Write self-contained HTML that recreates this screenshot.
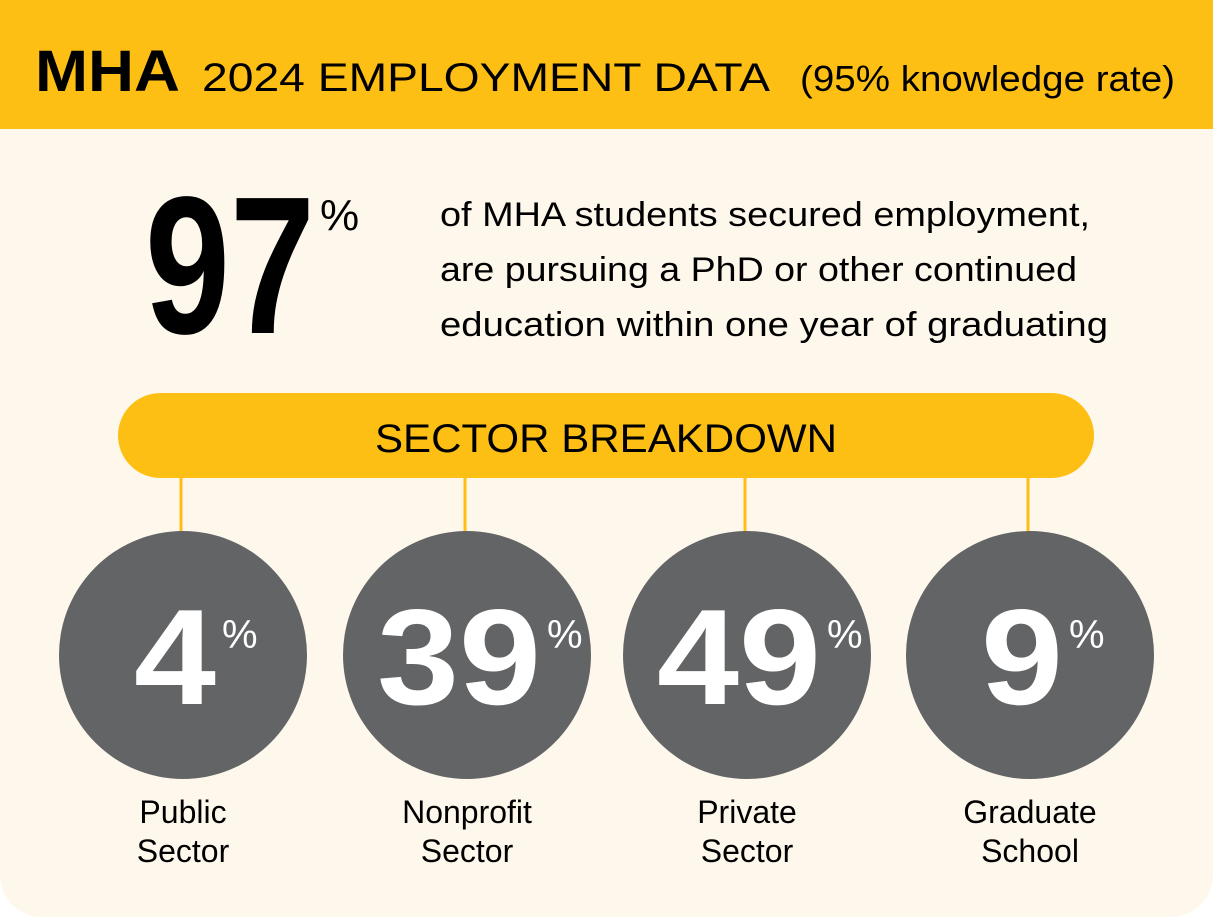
<!DOCTYPE html>
<html><head><meta charset="utf-8"><style>
html,body{margin:0;padding:0;background:#fff;}
body{width:1213px;height:917px;overflow:hidden;font-family:"Liberation Sans",sans-serif;}
</style></head><body>
<svg id="chart" width="1213" height="917" viewBox="0 0 1213 917" xmlns="http://www.w3.org/2000/svg" font-family="Liberation Sans, sans-serif">
<rect x="0" y="0" width="1213" height="917" rx="42" fill="#FEF7EC"/>
<rect x="0" y="0" width="1213" height="200" fill="#FEF7EC"/>
<rect x="0" y="0" width="1213" height="129" fill="#FDBF13"/>
<text x="35" y="91" font-size="58" font-weight="bold" fill="#000" textLength="145" lengthAdjust="spacingAndGlyphs">MHA</text>
<text x="202" y="91" font-size="40" fill="#000" textLength="568" lengthAdjust="spacingAndGlyphs">2024 EMPLOYMENT DATA</text>
<text x="800" y="91" font-size="36" fill="#000" textLength="375" lengthAdjust="spacingAndGlyphs">(95% knowledge rate)</text>
<text x="145" y="333" font-size="196" font-weight="bold" fill="#000" textLength="170" lengthAdjust="spacingAndGlyphs">97</text>
<text x="320" y="230" font-size="44" fill="#000">%</text>
<text x="440" y="226" font-size="34" fill="#000" textLength="650" lengthAdjust="spacingAndGlyphs">of MHA students secured employment,</text>
<text x="440" y="281" font-size="34" fill="#000" textLength="637" lengthAdjust="spacingAndGlyphs">are pursuing a PhD or other continued</text>
<text x="440" y="336" font-size="34" fill="#000" textLength="668" lengthAdjust="spacingAndGlyphs">education within one year of graduating</text>
<rect x="118" y="393" width="976" height="85" rx="42.5" fill="#FDBF13"/>
<text x="606" y="452" font-size="40" fill="#000" text-anchor="middle" textLength="462" lengthAdjust="spacingAndGlyphs">SECTOR BREAKDOWN</text>
<g id="circles"></g>
</svg>
<script>
const categories1 = ["Public", "Nonprofit", "Private", "Graduate"];
const categories2 = ["Sector", "Sector", "Sector", "School"];
const values = [4, 39, 49, 9];
const svg = document.getElementById('circles');
const NS = 'http://www.w3.org/2000/svg';
const centers = [183, 467, 747, 1030];
function xPos(i){ return centers[i]; }
function mk(tag, attrs){ const e = document.createElementNS(NS, tag); for (const k in attrs) e.setAttribute(k, attrs[k]); svg.appendChild(e); return e; }
values.forEach((v, i) => {
  const cx = xPos(i);
  const ln = mk('line', {x1: cx - 2, y1: 478, x2: cx - 2, y2: 535, stroke: '#FDBF13', 'stroke-width': 3});
  
  
  const c = mk('circle', {cx: cx, cy: 655, r: 124, fill: '#636466'});
  
  
  const s = String(v);
  const w = s.length * 82;
  const t = mk('text', {x: cx - 8, y: 704, 'font-size': 136, 'font-weight': 'bold', fill: '#fff', 'text-anchor': 'middle', textLength: w, lengthAdjust: 'spacingAndGlyphs'});
  t.textContent = s;
  
  
  const p = mk('text', {x: cx - 8 + w / 2 + 6, y: 648, 'font-size': 40, fill: '#fff'});
  p.textContent = '%';
  
  
  const l1 = mk('text', {x: cx, y: 823, 'font-size': 32, fill: '#000', 'text-anchor': 'middle'});
  l1.textContent = categories1[i];
  
  
  const l2 = mk('text', {x: cx, y: 862, 'font-size': 32, fill: '#000', 'text-anchor': 'middle'});
  l2.textContent = categories2[i];
  
  
});
</script>
</body></html>
